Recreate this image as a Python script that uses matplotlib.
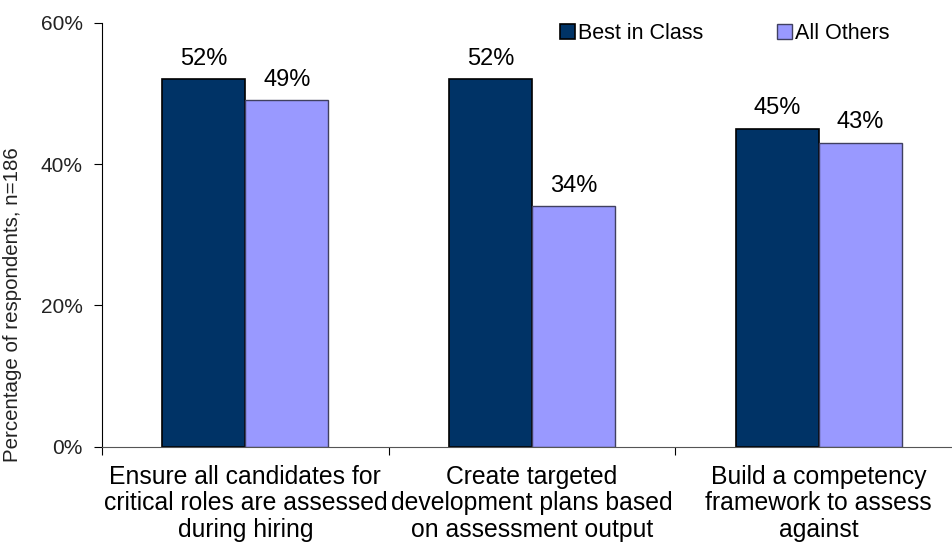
import numpy as np
import matplotlib.pyplot as plt

plt.rcParams['font.family'] = ['Liberation Sans', 'DejaVu Sans']

categorias = ["Ensure all candidates for\ncritical roles are assessed\nduring hiring",
              "Create targeted\ndevelopment plans based\non assessment output",
              "Build a competency\nframework to assess\nagainst"]
best_in_class = [52, 52, 45]
all_others = [49, 34, 43]
series = ["Best in Class", "All Others"]

fig = plt.figure(figsize=(9.52, 5.44), dpi=100)
ax = fig.add_axes([102/952, 1-446.7/544, 860/952, (446.7-22.7)/544])

x = np.arange(len(categorias)) + 0.5
w = 0.29
b1 = ax.bar(x - w/2, best_in_class, w, color='#003366', edgecolor='black', linewidth=1.2, label=series[0])
b2 = ax.bar(x + w/2, all_others, w, color='#9999FF', edgecolor='#404060', linewidth=1.0, label=series[1])

for bars, vals in ((b1, best_in_class), (b2, all_others)):
    for r, v in zip(bars, vals):
        ax.annotate("%d%%" % v, (r.get_x() + r.get_width()/2, v), xytext=(0, 7),
                    textcoords='offset points', ha='center', va='bottom', fontsize=17)

ax.set_xlim(0, 3)
ax.set_ylim(0, 60)
ax.set_yticks([0, 20, 40, 60])
ax.set_yticklabels(["0%", "20%", "40%", "60%"], fontsize=15, color='#222222')
ax.set_xticks([0, 1, 2, 3])
ax.set_xticklabels([])
ax.set_xticks(x, minor=True)
ax.set_xticklabels(categorias, minor=True, fontsize=17.8, linespacing=1.14)
ax.tick_params(axis='x', which='minor', length=0, pad=13)
ax.tick_params(axis='x', which='major', length=6, direction='out')
ax.tick_params(axis='y', length=6, direction='out', pad=8)
for s in ['top', 'right']:
    ax.spines[s].set_visible(False)
ax.spines['bottom'].set_color('#555555')
ax.set_ylabel("Percentage of respondents, n=186", fontsize=14.8, color='#222222')
ax.yaxis.set_label_coords(-0.093, 0.334)

ax.legend(loc='upper left', bbox_to_anchor=(0.51, 1.045), ncol=2, frameon=False,
          fontsize=15.5, handlelength=0.7, handleheight=0.7, handletextpad=0.15,
          columnspacing=3.4)

plt.savefig("out.png", dpi=100)
